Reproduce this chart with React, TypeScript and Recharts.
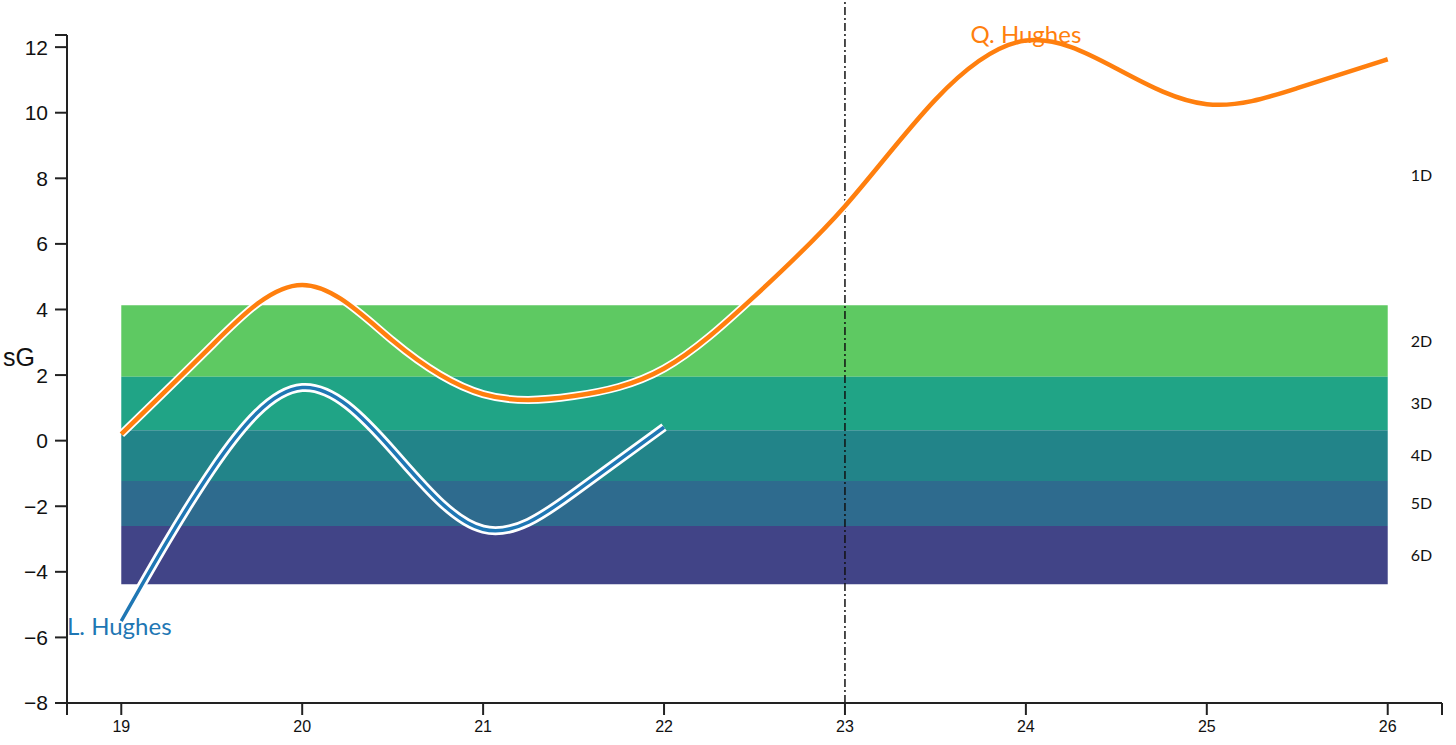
import { LineChart, Line, XAxis, YAxis, ReferenceArea, ReferenceLine, ReferenceDot } from 'recharts';

// season/year positions and the two curves
const years = [19, 19.5, 20, 20.5, 21, 21.5, 22, 22.5, 23, 23.5, 24, 24.5, 25, 25.5, 26];
const qHughes = [0.2, 2.9, 4.75, 3.05, 1.42, 1.36, 2.2, 4.4, 7.15, 10.4, 12.2, 11.35, 10.26, 10.75, 11.63];
const lHughes = [-5.5, -0.9, 1.62, -0.3, -2.7, -1.6, 0.41, null, null, null, null, null, null, null, null];

// tier bands behind the curves
const bandNames = ['1D', '2D', '3D', '4D', '5D', '6D'];
const bandTops = [12.07, 4.13, 1.95, 0.32, -1.23, -2.6];
const bandBottoms = [4.13, 1.95, 0.32, -1.23, -2.6, -4.38];
const bandColors = ['none', '#5ec962', '#20a486', '#228489', '#2e6b8e', '#414487'];

const xTicks = [18.7, 19, 20, 21, 22, 23, 24, 25, 26, 26.3];
const yTicks = [-8, -6, -4, -2, 0, 2, 4, 6, 8, 10, 12, 12.37];

const data = years.map((x, i) => ({ x, q: qHughes[i], l: lHughes[i] }));

const axisColor = '#222';
const orange = '#ff7f0e';
const blue = '#1f77b4';
const labelFont = 'Lato, "Noto Sans", sans-serif';
const tickFont = '"Liberation Sans", Arial, sans-serif';

// only whole numbers get a label; the end ticks stay bare
const showInt = (v: number) => (Number.isInteger(v) ? String(v).replace('-', '\u2212') : '');

export default function App() {
  return (
    <div style={{ position: 'absolute', left: 0, top: 0 }}>
      <LineChart width={1456} height={745} data={data} margin={{ top: 35, right: 14, bottom: 0, left: 0 }}>
        {bandNames.map((name, i) => (
          <ReferenceArea
            key={name}
            x1={19}
            x2={26}
            y1={bandBottoms[i]}
            y2={bandTops[i]}
            fill={bandColors[i]}
            fillOpacity={bandColors[i] === 'none' ? 0 : 1}
            stroke="none"
            ifOverflow="visible"
            label={{ value: name, position: 'right', offset: 23, fill: '#111', fontSize: 16, fontFamily: labelFont }}
          />
        ))}
        <XAxis
          dataKey="x"
          type="number"
          domain={[18.7, 26.3]}
          ticks={xTicks}
          interval={0}
          tickFormatter={showInt}
          height={42}
          tickSize={12}
          tickMargin={6}
          stroke={axisColor}
          strokeWidth={2}
          fontSize={16}
          tick={{ fill: '#111', fontSize: 16, fontFamily: tickFont }}
        />
        <YAxis
          type="number"
          domain={[-8, 12.37]}
          ticks={yTicks}
          interval={0}
          tickFormatter={showInt}
          width={67}
          tickSize={12}
          tickMargin={7}
          stroke={axisColor}
          strokeWidth={2}
          allowDataOverflow
          fontSize={21}
          tick={{ fill: '#111', fontSize: 21, fontFamily: tickFont }}
          label={{ value: 'sG', position: 'insideLeft', offset: 3, dy: -12, fill: '#111', fontSize: 25, fontFamily: tickFont }}
        />
        <ReferenceLine
          segment={[{ x: 23, y: -8 }, { x: 23, y: 13.44 }]}
          stroke="#111"
          strokeWidth={1.5}
          strokeDasharray="8 3 2 3"
          ifOverflow="visible"
        />
        <Line dataKey="q" type="natural" stroke="#fff" strokeWidth={8} dot={false} activeDot={false} isAnimationActive={false} />
        <Line dataKey="q" type="natural" stroke={orange} strokeWidth={4.5} dot={false} activeDot={false} isAnimationActive={false} />
        <Line dataKey="l" type="natural" stroke="#fff" strokeWidth={9} dot={false} activeDot={false} isAnimationActive={false} />
        <Line dataKey="l" type="natural" stroke={blue} strokeWidth={3.5} dot={false} activeDot={false} isAnimationActive={false} />
        <ReferenceDot
          x={24}
          y={12.4}
          r={0}
          ifOverflow="visible"
          label={{ value: 'Q. Hughes', position: 'center', fill: orange, fontSize: 24, fontFamily: labelFont }}
        />
        <ReferenceDot
          x={18.7}
          y={-5.68}
          r={0}
          ifOverflow="visible"
          label={{ value: 'L. Hughes', position: 'right', offset: 0, fill: blue, fontSize: 24, fontFamily: labelFont }}
        />
      </LineChart>
    </div>
  );
}
